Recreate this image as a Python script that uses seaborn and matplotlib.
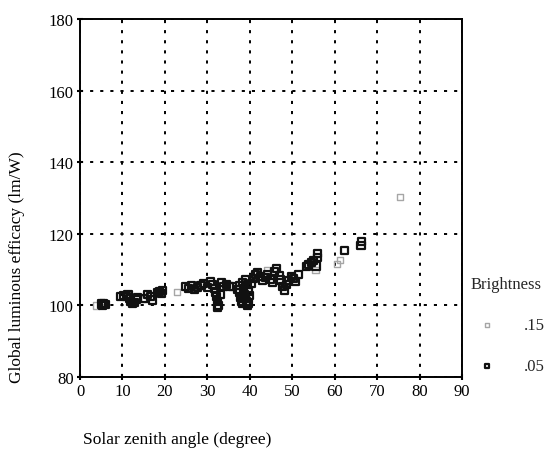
import matplotlib
matplotlib.use("Agg")
import matplotlib.pyplot as plt
import seaborn as sns
import pandas as pd

# Solar zenith angle (degree) and global luminous efficacy (lm/W)
zenith_05 = [5.0, 5.5, 6.0, 5.2,
             9.5, 10.3, 11.0, 11.6, 12.0, 12.4, 12.8, 13.2, 13.6, 11.3,
             15.3, 15.8, 16.6, 17.0, 18.2, 18.8, 19.3, 19.5,
             24.8, 25.5, 26.3, 27.0, 27.6, 28.5, 29.2, 30.0, 30.8,
             31.2, 31.6, 32.0, 32.2, 32.5, 32.7, 32.3, 33.0, 33.4, 33.8, 34.5, 35.2, 36.0,
             37.0, 37.5, 37.8, 38.0, 38.2, 38.5, 38.8, 39.0, 39.2, 39.4, 39.6, 39.8, 40.0,
             38.3, 39.0, 40.3, 37.6, 38.6, 39.4,
             40.8, 41.3, 41.8, 42.5, 43.0, 43.6, 44.2, 44.8, 45.4, 45.9, 46.4, 46.9,
             47.3, 47.8, 48.2, 48.6, 49.2, 49.8, 50.3, 50.8, 51.4,
             53.3, 53.9, 54.5, 55.0, 55.6, 55.9, 56.0,
             62.3, 66.2, 66.4]
efficacy_05 = [100.4, 100.6, 100.2, 99.9,
               102.6, 102.8, 102.4, 101.9, 101.2, 100.6, 100.9, 101.6, 102.2, 103.0,
               102.0, 103.1, 102.5, 101.5, 103.6, 104.0, 103.4, 104.2,
               105.3, 104.6, 105.6, 104.4, 105.1, 105.6, 106.2, 105.0, 106.6,
               105.8, 104.8, 103.6, 102.4, 101.2, 100.0, 99.5, 103.0, 106.4, 105.4, 105.9, 105.4, 105.2,
               104.5, 103.6, 102.2, 101.2, 100.5, 104.8, 103.0, 102.0, 101.0, 105.8, 104.0, 100.6, 102.8,
               106.5, 107.1, 106.2, 105.6, 101.8, 99.9,
               107.5, 108.6, 109.2, 108.0, 107.0, 107.8, 108.6, 107.2, 106.4, 109.4, 110.3, 108.4,
               107.1, 105.2, 104.3, 105.8, 107.0, 108.2, 107.6, 106.8, 108.6,
               110.8, 111.3, 111.9, 112.5, 111.0, 113.3, 114.4,
               115.4, 116.8, 117.9]

zenith_15 = [3.8, 14.8, 22.9, 44.0, 55.5, 60.6, 61.3, 75.4]
efficacy_15 = [100.0, 101.8, 103.8, 109.8, 109.8, 111.6, 112.6, 130.2]

brightness_labels = [".15", ".05"]
brightness_colors = ["#a6a6a6", "#111111"]
brightness_sizes = [20, 26]
brightness_widths = [1.0, 1.6]

x_ticks = [0, 10, 20, 30, 40, 50, 60, 70, 80, 90]
y_ticks = [80, 100, 120, 140, 160, 180]

df = pd.concat([
    pd.DataFrame({"zenith": zenith_15, "efficacy": efficacy_15, "Brightness": ".15"}),
    pd.DataFrame({"zenith": zenith_05, "efficacy": efficacy_05, "Brightness": ".05"}),
], ignore_index=True)

sns.set_theme(style="white")
plt.rcParams["font.family"] = ["Liberation Serif", "DejaVu Serif"]

fig = plt.figure(figsize=(5.51, 4.52), dpi=100)
ax = fig.add_axes([0.1452, 0.1637, 0.6933, 0.7921])

# open square markers, one layer per brightness class
for label, color, size, lw in zip(brightness_labels, brightness_colors,
                                  brightness_sizes, brightness_widths):
    sub = df[df["Brightness"] == label]
    sns.scatterplot(data=sub, x="zenith", y="efficacy", ax=ax, marker="s",
                    s=size, facecolor="none", edgecolor=color, linewidth=lw,
                    label=label, zorder=3)

ax.set_xlim(0, 90)
ax.set_ylim(80, 180)
ax.set_xticks(x_ticks)
ax.set_yticks(y_ticks)

ax.set_axisbelow(True)
ax.grid(True, color="black", linestyle=(0, (1.6, 3.6)), linewidth=1.4)

for side in ["left", "bottom", "right", "top"]:
    ax.spines[side].set_visible(True)
    ax.spines[side].set_color("black")
    ax.spines[side].set_linewidth(1.4)

ax.tick_params(axis="both", which="major", direction="inout", length=5,
               width=1.5, color="black", labelsize=12, labelcolor="black",
               left=True, bottom=True, pad=2)

ax.set_xlabel("Solar zenith angle (degree)", fontsize=12.5, color="black")
ax.set_ylabel("Global luminous efficacy (lm/W)", fontsize=12.5, color="black")
ax.xaxis.set_label_coords(0.255, -0.15)
ax.yaxis.set_label_coords(-0.145, 0.31)

leg = ax.legend(title="Brightness", loc="upper left", bbox_to_anchor=(1.005, 0.30),
                frameon=False, fontsize=12, title_fontsize=12, markerscale=0.6,
                labelspacing=1.5, handletextpad=1.2, borderaxespad=0,
                alignment="left")

fig.savefig("out.png", dpi=100)
